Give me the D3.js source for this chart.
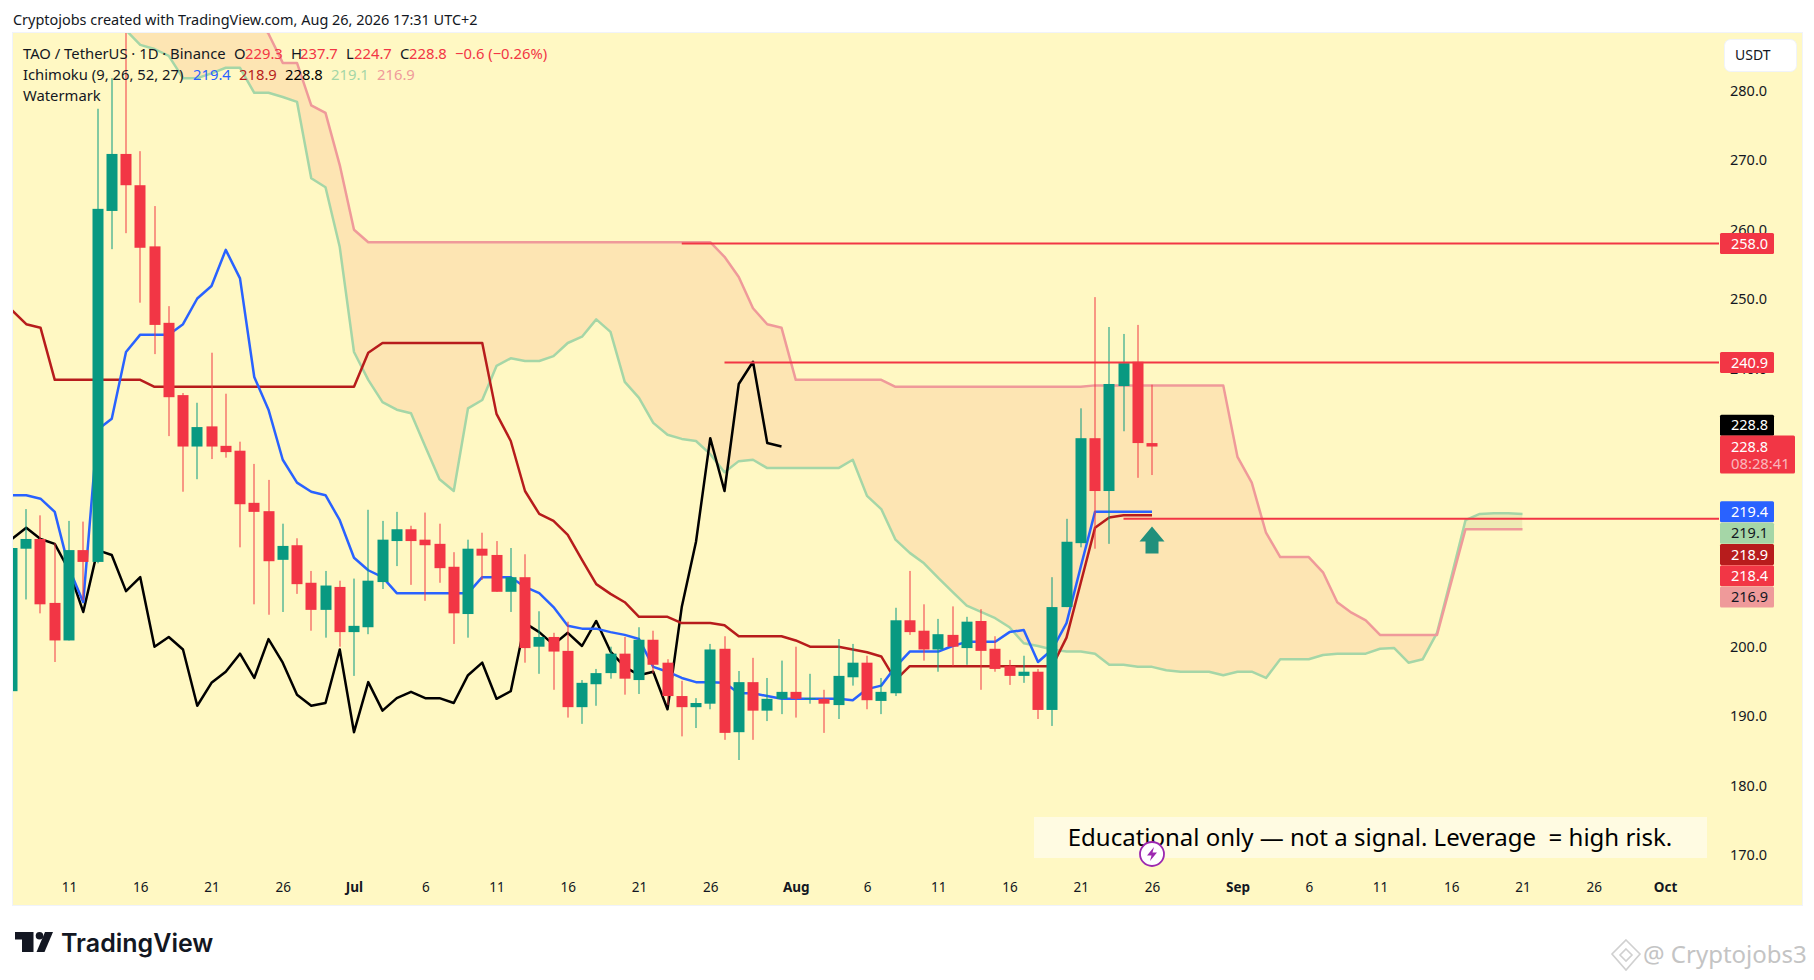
<!DOCTYPE html>
<html><head><meta charset="utf-8">
<script src="https://cdn.jsdelivr.net/npm/d3@7/dist/d3.min.js"></script>
<style>html,body{margin:0;padding:0;background:#fff}svg{display:block}text{font-family:"Noto Sans",sans-serif;white-space:pre}</style>
</head><body><svg id="c" width="1814" height="980"></svg>
<script>
const firstDay = "2026-06-07";
const opens = [193.6,214.1,215.5,206.3,200.9,213.9,212.2,262.7,270.9,266.4,257.6,246.6,236.2,228.8,231.7,228.9,228.2,220.7,219.5,212.5,214.6,209.2,205.3,208.6,
202.1,202.8,209.3,215.2,216.9,215.4,214.8,211.5,204.7,214.1,213.2,207.9,210.0,200.0,201.4,199.4,191.3,194.6,196.2,199.0,195.2,201.0,197.7,192.9,191.3,191.8,199.7,187.7,194.9,190.8,192.5,
193.5,192.5,192.5,191.6,195.6,197.7,192.2,193.3,203.8,202.3,199.6,201.7,199.8,203.7,199.7,197.2,195.8,196.4,190.9,205.7,214.9,230.0,222.4,237.5,241.0,229.3];
const highs = [215,219.8,218.9,214.9,218.1,218.0,277.4,281.8,295,271.3,263.4,249.0,236.5,235.1,242.3,236.4,229.5,226.3,224.0,217.7,215.6,210.9,210.9,209.5,
209.8,219.7,218.1,219.4,217.4,219.3,217.7,213.6,215.4,216.4,215.2,214.2,213.3,205.1,202.0,203.6,195.2,196.8,200.0,201.4,202.8,202.3,198.2,195.1,192.6,200.4,201.5,196.5,198.4,195.5,198.0,
200.0,196.1,193.8,201.1,200.4,198.7,195.5,205.6,210.9,206.1,204.0,205.8,204.3,205.4,201.5,198.1,198.7,196.8,210.0,218.4,234.3,250.3,246.0,245.0,246.3,237.7];
const lows = [193,206.8,204.8,197.8,200.9,206.7,212.0,257.2,259.5,249.5,242.1,230.3,222.3,224.1,227.0,227.2,214.3,206.1,204.6,205.0,207.6,202.3,201.3,200.0,
195.8,201.8,208.3,211.6,208.9,206.6,209.2,200.4,201.3,209.6,207.9,205.0,197.7,196.1,193.8,189.8,188.9,191.5,195.4,193.1,193.2,196.2,191.6,187.1,188.3,191.0,186.6,183.7,186.6,189.3,190.3,
189.8,191.8,187.6,189.6,194.4,191.0,190.3,192.9,201.7,198.0,196.4,197.2,197.4,193.8,196.4,194.5,194.8,189.6,188.6,205.7,214.3,214.1,214.8,231.0,224.3,224.7];
const closes = [214.2,215.5,206.1,200.9,213.9,212.2,263.0,270.9,266.4,257.4,246.3,235.9,228.8,231.6,228.8,228.0,220.5,219.4,212.3,214.5,209.0,205.3,208.8,202.1,
203.0,209.5,215.4,216.9,215.2,214.6,211.3,204.8,214.1,213.1,207.9,210.0,199.8,201.4,199.3,191.3,194.8,196.2,199.0,195.4,201.0,197.4,192.9,191.3,191.9,199.6,187.6,194.9,190.8,192.5,193.5,
192.5,192.6,191.8,195.8,197.7,192.3,193.5,203.8,202.1,199.6,201.8,200.0,203.6,199.4,196.8,195.8,196.4,190.9,205.7,215.1,230.0,222.4,237.8,240.8,229.3,228.8];
const tenkan = [221.8,221.8,221.3,219.4,211.3,206.4,231.2,232.8,242.4,244.9,244.9,244.9,246.4,250.1,251.9,257.1,253.0,238.8,234.1,226.9,223.6,222.3,221.8,218.2,
212.8,211.0,210.0,207.7,207.7,207.7,207.7,207.7,207.7,210.0,210.0,210.0,208.6,207.7,205.7,203.0,202.6,202.6,202.1,201.7,201.1,197.1,196.4,195.5,194.9,194.9,194.8,193.3,193.3,192.9,192.5,
192.5,192.5,192.5,192.5,192.3,193.9,194.4,197.1,199.3,199.3,199.3,200.1,200.7,200.7,200.7,202.1,202.4,197.8,199.6,203.4,211.5,219.4,219.4,219.4,219.4,219.4];
const kijun = [248.4,246.4,245.9,238.4,238.4,238.4,238.4,238.4,238.4,238.4,237.4,237.4,237.4,237.4,237.4,237.4,237.4,237.4,237.4,237.4,237.4,237.4,237.4,237.4,
237.4,242.3,243.7,243.7,243.7,243.7,243.7,243.7,243.7,243.7,233.5,229.6,222.4,219.1,218.1,216.1,212.5,209.0,207.6,206.4,204.3,204.3,204.3,203.4,203.4,203.4,203.1,201.5,201.5,201.5,201.5,
200.9,200.0,200.0,200.0,199.6,199.2,198.6,195.2,197.2,197.2,197.2,197.2,197.2,197.2,197.2,197.2,197.2,197.2,197.2,201.3,209.2,217.1,218.6,218.9,218.9,218.9];
const chikou = [215.5,217.1,215.5,214.8,211.0,205.0,213.9,213.2,208.0,210.0,200.0,201.4,199.6,191.5,194.8,196.4,199.0,195.5,201.1,197.7,193.1,191.5,191.9,199.6,
187.7,194.9,190.8,192.6,193.5,192.6,192.6,191.9,195.9,197.7,192.5,193.6,203.4,202.1,200.3,202.0,200.1,203.7,199.3,197.1,195.9,196.4,191.0,205.7,215.1,230.0,222.4,237.8,241.0,229.3,228.8];
// Cloud spans start one week later and run 26 days past the last candle
const spanOffset = 7;
const spanA = [292.3,288.7,286.6,286.0,285.0,281.8,281.8,282.5,283.3,283.3,279.7,279.7,279.1,278.4,267.4,266.1,257.5,
242.4,238.4,235.2,234.1,233.6,228.8,224.1,222.4,234.3,235.5,240.4,241.5,241.1,241.1,241.8,243.7,244.6,247.1,245.3,238.1,235.8,232.2,230.5,229.9,229.6,227.7,225.1,226.7,226.9,225.7,225.7,
225.7,225.7,225.7,225.7,226.9,221.7,219.8,215.4,213.5,212.0,209.9,207.9,205.9,205.0,204.1,202.8,200.5,200.1,199.6,199.3,199.3,199.0,197.4,197.4,197.1,197.1,196.6,196.4,196.4,196.4,195.9,
196.4,196.4,195.5,198.2,198.2,198.2,198.8,199.0,199.0,199.0,199.7,199.8,197.7,198.2,202.0,210.0,218.2,219.1,219.2,219.2,219.1];
const spanB = [293,293,293,293,293,293,293,293,293,293,290.9,288.2,284.0,284.0,277.9,276.8,269.3,
260.0,258.2,258.2,258.2,258.2,258.2,258.2,258.2,258.2,258.2,258.2,258.2,258.2,258.2,258.2,258.2,258.2,258.2,258.2,258.2,258.2,258.2,258.2,258.2,258.2,258.2,256.1,253.2,248.7,246.4,245.9,
238.4,238.4,238.4,238.4,238.4,238.4,238.4,237.4,237.4,237.4,237.4,237.4,237.4,237.4,237.4,237.4,237.4,237.4,237.4,237.4,237.4,237.6,237.6,237.6,237.6,237.6,237.6,237.6,237.6,237.6,237.6,
227.3,223.6,216.4,212.9,212.9,212.9,210.7,206.4,204.9,203.8,201.7,201.7,201.7,201.7,201.7,209.3,216.9,216.9,216.9,216.9,216.9];
const levels = [{price:258.0,from:"2026-07-24"},{price:240.9,from:"2026-07-27"},{price:218.4,from:"2026-08-24"}];
const priceTicks = [280,270,260,250,240,200,190,180,170];
const timeTicks = ["2026-06-11","2026-06-16","2026-06-21","2026-06-26","2026-07-01","2026-07-06","2026-07-11","2026-07-16","2026-07-21","2026-07-26","2026-08-01","2026-08-06","2026-08-11","2026-08-16","2026-08-21","2026-08-26","2026-09-01","2026-09-06","2026-09-11","2026-09-16","2026-09-21","2026-09-26","2026-10-01"];
const lastBarDay = "2026-08-26";

const C = {bg:"#FFF8C3",up:"#089981",down:"#F23645",tenkan:"#2962FF",kijun:"#B71C1C",a:"#A5D6A7",b:"#EF9A9A",text:"#131722",cloudR:"#FDE5B3",cloudG:"#EEEBB4"};
const P = {l:13,r:1802,t:33,b:905,axis:1719};
const parse = d3.utcParse("%Y-%m-%d");
const dayOf = i => d3.utcDay.offset(parse(firstDay), i);
const x = d3.scaleUtc().domain([parse("2026-06-11"),parse("2026-10-01")]).range([69,1665]);
const y = d3.scaleLinear().domain([170,280]).range([855.2,90.7]);

const svg = d3.select("#c");
svg.append("rect").attr("width",1814).attr("height",980).attr("fill","#fff");
svg.append("rect").attr("x",P.l-1).attr("y",P.t-1).attr("width",P.r-P.l+2).attr("height",P.b-P.t+2).attr("fill","#F0F3FA");
svg.append("rect").attr("x",P.l).attr("y",P.t).attr("width",P.r-P.l).attr("height",P.b-P.t).attr("fill",C.bg);

const defs = svg.append("defs");
defs.append("clipPath").attr("id","plot").append("rect").attr("x",P.l).attr("y",P.t).attr("width",P.r-P.l).attr("height",P.b-P.t);
const spans = spanA.map((a,i)=>({d:dayOf(i+spanOffset),a,b:spanB[i]}));
defs.append("clipPath").attr("id","aboveA").append("path").attr("d",d3.area().x(s=>x(s.d)).y0(s=>y(s.a)).y1(-200)(spans));
defs.append("clipPath").attr("id","belowA").append("path").attr("d",d3.area().x(s=>x(s.d)).y0(s=>y(s.a)).y1(1200)(spans));

const g = svg.append("g").attr("clip-path","url(#plot)");
const cloud = d3.area().x(s=>x(s.d)).y0(s=>y(s.a)).y1(s=>y(s.b));
g.append("g").attr("clip-path","url(#aboveA)").append("path").attr("d",cloud(spans)).attr("fill",C.cloudR);
g.append("g").attr("clip-path","url(#belowA)").append("path").attr("d",cloud(spans)).attr("fill",C.cloudG);

const line = d3.line().x(p=>x(p.d)).y(p=>y(p.v));
const series = (vals,off=0)=>vals.map((v,i)=>({d:dayOf(i+off),v}));
[[spanA,spanOffset,C.a],[spanB,spanOffset,C.b],[chikou,0,"#000"],[kijun,0,C.kijun],[tenkan,0,C.tenkan]].forEach(([vals,off,col])=>{
  g.append("path").attr("d",line(series(vals,off))).attr("fill","none").attr("stroke",col).attr("stroke-width",2.5).attr("stroke-linejoin","round");
});

const bars = opens.map((o,i)=>({d:dayOf(i),o,h:highs[i],l:lows[i],c:closes[i]}));
const colr = b=>b.c>=b.o?C.up:C.down;
const bw = 11;
g.selectAll(".w").data(bars).join("rect").attr("x",b=>Math.round(x(b.d))-0.5).attr("width",1)
  .attr("y",b=>y(b.h)).attr("height",b=>y(b.l)-y(b.h)).attr("fill",colr);
g.selectAll(".b").data(bars).join("rect").attr("x",b=>Math.round(x(b.d))-bw/2).attr("width",bw)
  .attr("y",b=>y(Math.max(b.o,b.c))).attr("height",b=>Math.max(1,Math.abs(y(b.o)-y(b.c)))).attr("fill",colr);

// horizontal levels
levels.forEach(l=>{
  svg.append("line").attr("x1",x(parse(l.from))).attr("x2",P.axis).attr("y1",y(l.price)).attr("y2",y(l.price)).attr("stroke",C.down).attr("stroke-width",2);
});

// arrow under last bar
const ax = x(parse(lastBarDay)), ay = y(217.3);
svg.append("path").attr("transform",`translate(${ax},${ay})`).attr("d","M0,0L12.5,15H6.5V27H-6.5V15H-12.5Z").attr("fill","#22907C");

// axes
const yAxis = svg.append("g").attr("transform",`translate(${P.axis},0)`).call(d3.axisRight(y).tickValues(priceTicks).tickSize(0).tickPadding(11).tickFormat(d=>d.toFixed(1)));
yAxis.select(".domain").remove();
yAxis.selectAll("text").attr("font-size",14.5).attr("fill",C.text).style("font-family",'"Noto Sans",sans-serif');
const isMonth = d=>d.getUTCDate()===1;
const xAxis = svg.append("g").attr("transform","translate(0,874)").call(d3.axisBottom(x).tickValues(timeTicks.map(parse)).tickSize(0).tickPadding(8).tickFormat(d=>isMonth(d)?d3.utcFormat("%b")(d):d3.utcFormat("%-d")(d)));
xAxis.select(".domain").remove();
xAxis.selectAll("text").attr("font-size",13.5).attr("fill",C.text).attr("font-weight",d=>isMonth(d)?700:400).style("font-family",'"Noto Sans",sans-serif');

// price labels
function tag(cy,txt,bg,fg,h=21,w=54){
  svg.append("rect").attr("x",P.axis+1).attr("y",cy-h/2).attr("width",w).attr("height",h).attr("rx",1.5).attr("fill",bg);
  svg.append("text").attr("x",1731).attr("y",cy).attr("dy","0.35em").attr("font-size",14.5).attr("fill",fg).text(txt);
}
const step = 21.3;
const lab = [[258.0,C.down,"#fff"],[240.9,C.down,"#fff"]];
lab.forEach(([p,b,f])=>tag(y(p),p.toFixed(1),b,f));
const stack = [[219.4,C.tenkan,"#fff"],[219.1,C.a,C.text],[218.9,C.kijun,"#fff"],[218.4,C.down,"#fff"],[216.9,C.b,C.text]];
stack.forEach(([p,b,f],i)=>tag(y(219.4)+i*step,p.toFixed(1),b,f));
const close = closes[closes.length-1];
tag(y(close)-21.3,close.toFixed(1),"#000","#fff");
svg.append("rect").attr("x",P.axis+1).attr("y",y(close)-11).attr("width",75).attr("height",38).attr("rx",1.5).attr("fill",C.down);
svg.append("text").attr("x",1731).attr("y",y(close)).attr("dy","0.35em").attr("font-size",14.5).attr("fill","#fff").text(close.toFixed(1));
svg.append("text").attr("x",1731).attr("y",y(close)+17).attr("dy","0.35em").attr("font-size",14.8).attr("fill","#fff").attr("fill-opacity",0.65).text("08:28:41");

// currency button
svg.append("rect").attr("x",1724.5).attr("y",39.5).attr("width",72).attr("height",32).attr("rx",6).attr("fill","#fff").attr("stroke","#F0F3FA");
svg.append("text").attr("x",1735).attr("y",55).attr("dy","0.35em").attr("font-size",14).attr("fill",C.text).text("USDT");

// header + legend
const tx=(x0,yy,t,col=C.text,fs=14.8)=>svg.append("text").attr("x",x0).attr("y",yy).attr("dy","0.35em").attr("font-size",fs).attr("fill",col).text(t);
tx(13,20,"Cryptojobs created with TradingView.com, Aug 26, 2026 17:31 UTC+2",C.text,14.45);
tx(23,54,"TAO / TetherUS · 1D · Binance");
[[234,"O",245,"229.3"],[291,"H",300,"237.7"],[346,"L",354,"224.7"],[400,"C",409,"228.8"]].forEach(([a,l,b,v])=>{tx(a,54,l);tx(b,54,v,C.down);});
tx(455,54,"−0.6 (−0.26%)",C.down);
tx(23,75,"Ichimoku (9, 26, 52, 27)");
[[193,"219.4",C.tenkan],[239,"218.9",C.kijun],[285,"228.8","#000"],[331,"219.1",C.a],[377,"216.9",C.b]].forEach(([a,v,c])=>tx(a,75,v,c));
tx(23,96,"Watermark");

// watermark note
svg.append("rect").attr("x",1034).attr("y",817).attr("width",673).attr("height",41).attr("fill","#FFFBE2");
svg.append("text").attr("x",1370).attr("y",838).attr("dy","0.35em").attr("text-anchor","middle").attr("font-size",24).attr("fill","#000").text("Educational only — not a signal. Leverage  = high risk.");

// lightning marker
const mx=x(parse(lastBarDay));
svg.append("circle").attr("cx",mx).attr("cy",854).attr("r",12).attr("fill","#fff").attr("stroke","#9C27B0").attr("stroke-width",1.8);
svg.append("path").attr("transform",`translate(${mx},854)`).attr("d","M2,-7L-5,1.5H-0.5L-2,7L5,-1.5H0.5Z").attr("fill","#9C27B0");

// TradingView logo
svg.append("path").attr("fill","#131722").attr("d","M15,932H33.5V952H22V939.5H15Z");
svg.append("circle").attr("cx",39.5).attr("cy",935.8).attr("r",3.8).attr("fill","#131722");
svg.append("path").attr("fill","#131722").attr("d","M45,932H53L44.5,952H36.5Z");
svg.append("text").attr("x",61).attr("y",943).attr("dy","0.35em").attr("font-size",25).attr("font-weight",600).attr("fill","#131722").style("font-family","Inter,sans-serif").text("TradingView");

// bottom-right watermark
const wm=svg.append("g").attr("fill","none").attr("stroke","#d0d0d0").attr("stroke-width",1.6).attr("transform","translate(1626,955)");
wm.append("path").attr("d","M0,-15L14,-1L0,15L-14,-1Z");
wm.append("path").attr("d","M0,-6L6,0L0,6L-6,0Z");
svg.append("text").attr("x",1643).attr("y",955).attr("dy","0.35em").attr("font-size",24).attr("fill","#c4c4c4").text("@ Cryptojobs3");
</script></body></html>
